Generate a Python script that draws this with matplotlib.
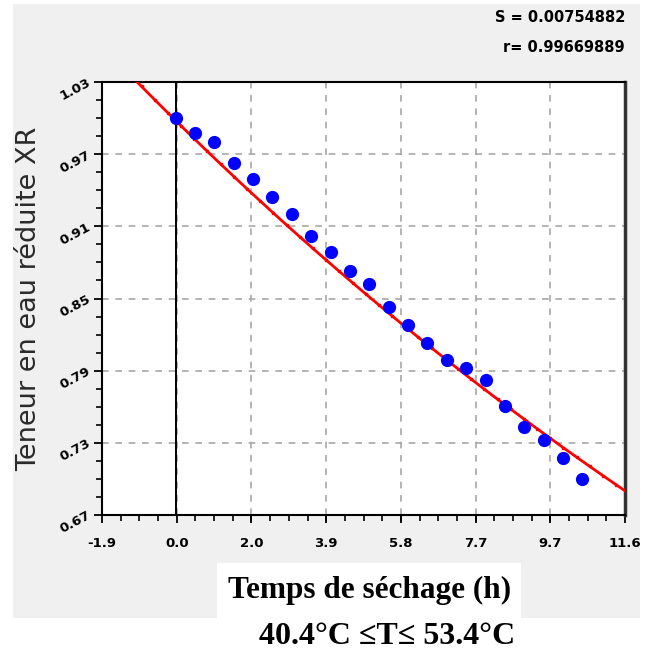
import numpy as np
import matplotlib
matplotlib.use("Agg")
import matplotlib.pyplot as plt
from matplotlib.patches import Rectangle
from matplotlib.ticker import FixedLocator, AutoMinorLocator

# drying time (h) and reduced moisture content XR
temps = [0.0, 0.5, 1.0, 1.5, 2.0, 2.5, 3.0, 3.5, 4.0, 4.5, 5.0,
         5.5, 6.0, 6.5, 7.0, 7.5, 8.0, 8.5, 9.0, 9.5, 10.0, 10.5]
xr = [1.000, 0.988, 0.980, 0.963, 0.949, 0.934, 0.920, 0.902, 0.889, 0.873, 0.862,
      0.843, 0.828, 0.813, 0.799, 0.792, 0.782, 0.761, 0.743, 0.732, 0.717, 0.700]

# fitted model XR = a * exp(-k t), parameters
fit_a = 0.998
fit_k = 0.0318

x_ticks = [-1.9, 0.029, 1.957, 3.886, 5.814, 7.743, 9.671, 11.6]
x_labels = ["-1.9", "0.0", "2.0", "3.9", "5.8", "7.7", "9.7", "11.6"]
y_ticks = [0.67, 0.73, 0.79, 0.85, 0.91, 0.97, 1.03]
y_labels = ["0.67", "0.73", "0.79", "0.85", "0.91", "0.97", "1.03"]

stats = ["S = 0.00754882", "r= 0.99669889"]

fig = plt.figure(figsize=(6.53, 6.58), dpi=100)
fig.patch.set_facecolor("white")

# grey panel behind the plot
fig.patches.append(Rectangle((13 / 653, 1 - 618 / 658), 627 / 653, 614 / 658,
                             transform=fig.transFigure, facecolor="#f0f0f0",
                             edgecolor="none", zorder=-10))
# white box behind the x label
fig.patches.append(Rectangle((217 / 653, 1 - 620 / 658), 304 / 653, 57 / 658,
                             transform=fig.transFigure, facecolor="white",
                             edgecolor="none", zorder=-9))

ax = fig.add_axes([102 / 653, 1 - 515 / 658, 523 / 653, 433 / 658])
ax.set_facecolor("white")
ax.set_xlim(-1.9, 11.6)
ax.set_ylim(0.67, 1.03)

ax.xaxis.set_major_locator(FixedLocator(x_ticks))
ax.yaxis.set_major_locator(FixedLocator(y_ticks))
ax.xaxis.set_minor_locator(AutoMinorLocator(4))
ax.yaxis.set_minor_locator(AutoMinorLocator(4))
ax.set_xticklabels(x_labels, fontsize=9.5, fontweight="bold", family="DejaVu Sans")
ax.set_yticklabels(y_labels, fontsize=9.5, fontweight="bold", family="DejaVu Sans",
                   rotation=28, rotation_mode="anchor", ha="right", va="center")
ax.tick_params(which="major", direction="out", length=6, width=1.3, color="black")
ax.tick_params(which="minor", direction="out", length=4, width=1.2, color="black")
ax.tick_params(axis="x", pad=10)
ax.tick_params(axis="y", pad=3)

ax.grid(True, which="major", linestyle=(0, (4, 4)), color="#a8a8a8", linewidth=1.2)
for side in ["left", "bottom", "top"]:
    ax.spines[side].set_linewidth(1.5)
ax.spines["right"].set_linewidth(2.5)
ax.spines["right"].set_color("#333333")

ax.axvline(0, color="black", linewidth=1.4, zorder=2)

line_x = np.linspace(-1.9, 11.6, 120)
ax.plot(line_x, fit_a * np.exp(-fit_k * line_x), color="red", linewidth=2,
        marker="s", markersize=2, markevery=3, zorder=3)
ax.plot(temps, xr, linestyle="none", marker="o", markersize=8.5,
        color="#0000ff", markeredgecolor="#0000ff", zorder=4)

ax.set_ylabel("Teneur en eau réduite XR", fontsize=19.5, color="#2a2a2a",
              family="DejaVu Sans")
ax.yaxis.set_label_coords(-0.115, 0.5)

fig.text(370 / 653, 1 - 590 / 658, "Temps de séchage (h)", family="Liberation Serif",
         fontweight="bold", fontsize=22.5, ha="center", va="center")
fig.text(387 / 653, 1 - 637 / 658, "40.4°C ≤T≤ 53.4°C", family="Liberation Serif",
         fontweight="bold", fontsize=23, ha="center", va="center")

for i, s in enumerate(stats):
    fig.text(625 / 653, 1 - (18 + 29 * i) / 658, s, fontsize=10.5, fontweight="bold",
             family="DejaVu Sans", ha="right", va="center")

fig.savefig("out.png", dpi=100)
